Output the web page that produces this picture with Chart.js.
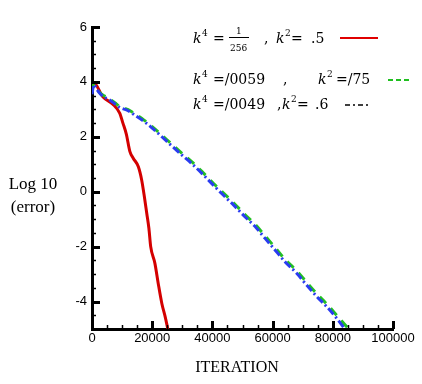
<!DOCTYPE html>
<html>
<head>
<meta charset="utf-8">
<script src="https://cdn.jsdelivr.net/npm/chart.js@4.4.0/dist/chart.umd.min.js"></script>
<style>
  html, body { margin: 0; padding: 0; background: #fff; }
  #wrap { width: 422px; height: 384px; }
</style>
</head>
<body>
<div id="wrap"><canvas id="errChart" width="422" height="384"></canvas></div>
<script>
// valeurs (log10 de l'erreur en fonction des iterations)
const redIter = [0, 700, 3600, 7000, 9200, 10300, 11400, 12600, 13700, 15400, 16500, 17400, 18200, 18900, 19500, 20900, 22000, 23200, 24300, 25200];
const redLog  = [3.9, 3.95, 3.46, 3.18, 2.86, 2.49, 2.1, 1.46, 1.22, 0.91, 0.43, -0.18, -0.79, -1.33, -2.0, -2.61, -3.34, -4.07, -4.55, -5.0];

const greenIter = [0, 600, 1500, 2500, 4000, 5300, 7600, 9200, 12000, 14200, 17400, 20000, 24800, 29800, 33100, 36500, 40300, 43600, 47000, 50800, 54200, 57500, 60800, 64100, 68000, 71300, 74700, 78000, 81300, 85300];
const greenLog  = [3.65, 3.92, 3.8, 3.62, 3.5, 3.42, 3.24, 3.11, 2.99, 2.84, 2.6, 2.37, 1.9, 1.41, 1.1, 0.74, 0.31, -0.04, -0.4, -0.83, -1.19, -1.61, -2.03, -2.46, -2.88, -3.3, -3.72, -4.09, -4.5, -5.0];

const blueIter = [0, 600, 1500, 2500, 4000, 5300, 7600, 9200, 12000, 14200, 17400, 20000, 24800, 29800, 33100, 36500, 40300, 43600, 47000, 50800, 54200, 57500, 60800, 64100, 68000, 71300, 74700, 78000, 81300, 84000];
const blueLog  = [3.55, 3.9, 3.75, 3.6, 3.45, 3.38, 3.2, 3.07, 2.95, 2.79, 2.55, 2.32, 1.84, 1.34, 1.03, 0.67, 0.24, -0.12, -0.48, -0.91, -1.27, -1.7, -2.12, -2.55, -2.97, -3.4, -3.82, -4.19, -4.61, -5.0];

const xTickLabels = [0, 20000, 40000, 60000, 80000, 100000];
const yTickLabels = [-4, -2, 0, 2, 4, 6];

function pts(xs, ys) {
  return xs.map((x, i) => ({ x: x, y: ys[i] }));
}

// ticks vers l'interieur + titres + legende
const decorPlugin = {
  id: 'decor',
  afterDraw(chart) {
    const c = chart.ctx;
    const xs = chart.scales.x, ys = chart.scales.y;
    const a = chart.chartArea;
    c.save();
    c.strokeStyle = '#000';
    c.lineCap = 'butt';
    // y ticks
    for (let v = -4.5; v <= 6; v += 0.5) {
      const py = Math.round(ys.getPixelForValue(v)) + 0.5;
      const major = yTickLabels.includes(v);
      c.lineWidth = major ? 3 : 1.5;
      c.beginPath();
      c.moveTo(a.left, py);
      c.lineTo(a.left + (major ? 8 : 4), py);
      c.stroke();
    }
    // x ticks
    for (let v = 5000; v <= 100000; v += 5000) {
      const px = Math.round(xs.getPixelForValue(v)) + 0.5;
      const major = xTickLabels.includes(v);
      c.lineWidth = major ? 3 : 1.5;
      c.beginPath();
      c.moveTo(px, a.bottom);
      c.lineTo(px, a.bottom - (major ? 8 : 4));
      c.stroke();
    }

    // titres
    c.fillStyle = '#000';
    c.textAlign = 'center';
    c.textBaseline = 'alphabetic';
    c.font = '17px "Liberation Serif"';
    c.fillText('Log 10', 33, 189);
    c.fillText('(error)', 33, 212);
    c.font = '16px "Liberation Serif"';
    c.fillText('ITERATION', 237, 372);

    // legende
    c.textAlign = 'left';
    const it = 'italic 14px "DejaVu Serif"';
    const rm = '14px "DejaVu Serif"';
    const sup = '9px "DejaVu Serif"';
    const sm = '9px "DejaVu Serif"';
    function t(str, x, y, f) { c.font = f; c.fillText(str, x, y); }

    // ligne 1
    let b = 43;
    t('k', 193, b, it); t('4', 202, b - 7, sup);
    t('=', 213, b, rm);
    t('1', 236, b - 9, sm); t('256', 230, b + 8, sm);
    c.lineWidth = 1; c.beginPath(); c.moveTo(229, b - 5.5); c.lineTo(249, b - 5.5); c.stroke();
    t(',', 264, b, rm);
    t('k', 276, b, it); t('2', 285, b - 7, sup);
    t('=', 291, b, rm); t('.5', 311, b, rm);
    c.strokeStyle = '#e00000'; c.lineWidth = 2;
    c.beginPath(); c.moveTo(340, 38); c.lineTo(378, 38); c.stroke();

    // ligne 2
    c.strokeStyle = '#000';
    b = 84;
    t('k', 193, b, it); t('4', 202, b - 7, sup);
    t('=/0059', 213, b, rm);
    t(',', 283, b, rm);
    t('k', 318, b, it); t('2', 327, b - 7, sup);
    t('=/75', 336, b, rm);
    c.strokeStyle = '#1fbf1f'; c.lineWidth = 2; c.setLineDash([5, 3]);
    c.beginPath(); c.moveTo(388, 80); c.lineTo(411, 80); c.stroke();

    // ligne 3
    b = 109;
    t('k', 193, b, it); t('4', 202, b - 7, sup);
    t('=/0049', 213, b, rm);
    t(',', 277, b, rm);
    t('k', 282, b, it); t('2', 291, b - 7, sup);
    t('=', 297, b, rm); t('.6', 315, b, rm);
    c.strokeStyle = '#000'; c.lineWidth = 1.5; c.setLineDash([5, 3, 2, 3]);
    c.beginPath(); c.moveTo(345, 105); c.lineTo(371, 105); c.stroke();
    c.restore();
  }
};

const ctx = document.getElementById('errChart').getContext('2d');
const chart = new Chart(ctx, {
  type: 'line',
  data: {
    datasets: [{
      label: 'k4=/0049, k2=.6',
      data: pts(blueIter, blueLog),
      borderColor: '#2a3cf0',
      borderWidth: 3,
      borderDash: [8, 3, 2, 3],
      pointRadius: 0,
      cubicInterpolationMode: 'monotone',
      order: 0
    }, {
      label: 'k4=/0059, k2=/75',
      data: pts(greenIter, greenLog),
      borderColor: '#22c022',
      borderWidth: 3,
      borderDash: [9, 7],
      pointRadius: 0,
      cubicInterpolationMode: 'monotone',
      order: 1
    }, {
      label: 'k4=1/256, k2=.5',
      data: pts(redIter, redLog),
      borderColor: '#d40000',
      borderWidth: 3,
      pointRadius: 0,
      cubicInterpolationMode: 'monotone',
      order: 2
    }]
  },
  options: {
    responsive: false,
    animation: false,
    devicePixelRatio: 1,
    layout: { padding: { left: 0, top: 27, right: 29, bottom: 0 } },
    plugins: {
      legend: { display: false },
      tooltip: { enabled: false }
    },
    scales: {
      x: {
        type: 'linear',
        min: 0,
        max: 100000,
        afterFit: s => { s.height = 55; },
        afterBuildTicks: s => { s.ticks = xTickLabels.map(v => ({ value: v })); },
        grid: { drawOnChartArea: false, drawTicks: false },
        border: { display: true, color: '#000', width: 3 },
        ticks: {
          color: '#000',
          padding: 2,
          maxRotation: 0,
          autoSkip: false,
          font: { family: '"Liberation Sans Narrow", "Liberation Sans"', size: 13 },
          callback: v => String(v)
        }
      },
      y: {
        min: -5,
        max: 6,
        afterFit: s => { s.width = 92; },
        afterBuildTicks: s => { s.ticks = yTickLabels.map(v => ({ value: v })); },
        grid: { drawOnChartArea: false, drawTicks: false },
        border: { display: true, color: '#000', width: 3 },
        ticks: {
          color: '#000',
          padding: 5,
          font: { family: '"Liberation Sans Narrow", "Liberation Sans"', size: 13 },
          callback: v => String(v)
        }
      }
    }
  },
  plugins: [decorPlugin]
});
</script>
</body>
</html>
